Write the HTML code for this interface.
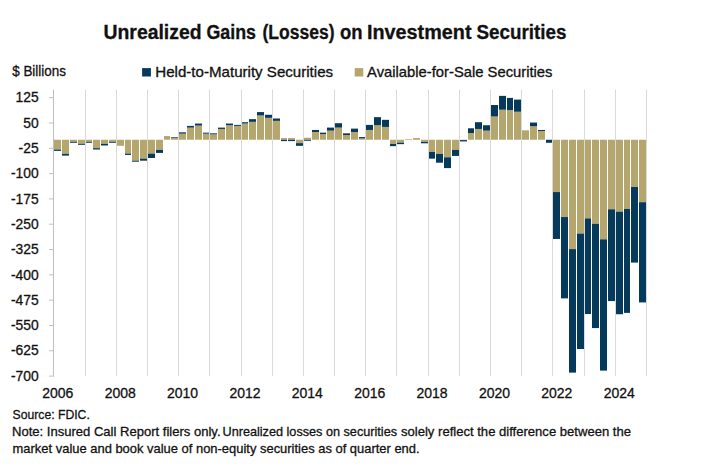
<!DOCTYPE html>
<html><head><meta charset="utf-8"><title>Unrealized Gains (Losses) on Investment Securities</title>
<style>
html,body{margin:0;padding:0;background:#fff;}
body{width:709px;height:466px;overflow:hidden;}
svg{display:block;}
text{font-family:"Liberation Sans",Arial,sans-serif;fill:#111111;stroke:#111111;stroke-width:0.3px;}
.ax{font-size:14.5px;}
.tt{font-size:19.4px;font-weight:bold;}
.lg{font-size:14.2px;}
.nt{font-size:13.2px;}
</style></head>
<body>
<svg width="709" height="466" viewBox="0 0 709 466">
<rect x="0" y="0" width="709" height="466" fill="#fff"/>
<text x="103.50" y="38.7" class="tt" textLength="98.03" lengthAdjust="spacingAndGlyphs">Unrealized</text><text x="206.50" y="38.7" class="tt" textLength="49.52" lengthAdjust="spacingAndGlyphs">Gains</text><text x="262.50" y="38.7" class="tt" textLength="72.04" lengthAdjust="spacingAndGlyphs">(Losses)</text><text x="340.00" y="38.7" class="tt" textLength="22.59" lengthAdjust="spacingAndGlyphs">on</text><text x="367.00" y="38.7" class="tt" textLength="104.52" lengthAdjust="spacingAndGlyphs">Investment</text><text x="476.50" y="38.7" class="tt" textLength="90.02" lengthAdjust="spacingAndGlyphs">Securities</text>
<text x="12.2" y="76.3" class="lg" textLength="53.8" lengthAdjust="spacingAndGlyphs">$ Billions</text>
<rect x="142.1" y="68.1" width="8.8" height="8.4" fill="#063a5b"/>
<text x="155.3" y="76.5" class="lg" textLength="177.8" lengthAdjust="spacingAndGlyphs">Held-to-Maturity Securities</text>
<rect x="354.7" y="68.1" width="8.6" height="8.4" fill="#b5a66e"/>
<text x="367.1" y="76.5" class="lg" textLength="185.4" lengthAdjust="spacingAndGlyphs">Available-for-Sale Securities</text>
<line x1="85.50" y1="89.5" x2="85.50" y2="376.2" stroke="#d9d9d9" stroke-width="1"/>
<line x1="116.50" y1="89.5" x2="116.50" y2="376.2" stroke="#d9d9d9" stroke-width="1"/>
<line x1="147.50" y1="89.5" x2="147.50" y2="376.2" stroke="#d9d9d9" stroke-width="1"/>
<line x1="178.50" y1="89.5" x2="178.50" y2="376.2" stroke="#d9d9d9" stroke-width="1"/>
<line x1="209.50" y1="89.5" x2="209.50" y2="376.2" stroke="#d9d9d9" stroke-width="1"/>
<line x1="241.50" y1="89.5" x2="241.50" y2="376.2" stroke="#d9d9d9" stroke-width="1"/>
<line x1="272.50" y1="89.5" x2="272.50" y2="376.2" stroke="#d9d9d9" stroke-width="1"/>
<line x1="303.50" y1="89.5" x2="303.50" y2="376.2" stroke="#d9d9d9" stroke-width="1"/>
<line x1="334.50" y1="89.5" x2="334.50" y2="376.2" stroke="#d9d9d9" stroke-width="1"/>
<line x1="365.50" y1="89.5" x2="365.50" y2="376.2" stroke="#d9d9d9" stroke-width="1"/>
<line x1="396.50" y1="89.5" x2="396.50" y2="376.2" stroke="#d9d9d9" stroke-width="1"/>
<line x1="428.50" y1="89.5" x2="428.50" y2="376.2" stroke="#d9d9d9" stroke-width="1"/>
<line x1="459.50" y1="89.5" x2="459.50" y2="376.2" stroke="#d9d9d9" stroke-width="1"/>
<line x1="490.50" y1="89.5" x2="490.50" y2="376.2" stroke="#d9d9d9" stroke-width="1"/>
<line x1="521.50" y1="89.5" x2="521.50" y2="376.2" stroke="#d9d9d9" stroke-width="1"/>
<line x1="552.50" y1="89.5" x2="552.50" y2="376.2" stroke="#d9d9d9" stroke-width="1"/>
<line x1="584.50" y1="89.5" x2="584.50" y2="376.2" stroke="#d9d9d9" stroke-width="1"/>
<line x1="615.50" y1="89.5" x2="615.50" y2="376.2" stroke="#d9d9d9" stroke-width="1"/>
<line x1="646.50" y1="89.5" x2="646.50" y2="376.2" stroke="#d9d9d9" stroke-width="1"/>
<rect x="54.00" y="139.75" width="7.00" height="9.79" fill="#b5a66e"/>
<rect x="54.00" y="149.54" width="7.00" height="1.35" fill="#063a5b"/>
<rect x="62.00" y="139.75" width="7.00" height="14.18" fill="#b5a66e"/>
<rect x="62.00" y="153.93" width="7.00" height="1.69" fill="#063a5b"/>
<rect x="70.00" y="139.75" width="7.00" height="2.03" fill="#b5a66e"/>
<rect x="70.00" y="141.78" width="7.00" height="1.01" fill="#063a5b"/>
<rect x="78.00" y="139.75" width="7.00" height="4.05" fill="#b5a66e"/>
<rect x="78.00" y="143.80" width="7.00" height="1.01" fill="#063a5b"/>
<rect x="86.00" y="139.75" width="6.00" height="2.03" fill="#b5a66e"/>
<rect x="86.00" y="141.78" width="6.00" height="1.01" fill="#063a5b"/>
<rect x="93.00" y="139.75" width="7.00" height="8.44" fill="#b5a66e"/>
<rect x="93.00" y="148.19" width="7.00" height="1.35" fill="#063a5b"/>
<rect x="101.00" y="139.75" width="7.00" height="4.05" fill="#b5a66e"/>
<rect x="101.00" y="143.80" width="7.00" height="1.69" fill="#063a5b"/>
<rect x="109.00" y="139.75" width="7.00" height="2.03" fill="#b5a66e"/>
<rect x="109.00" y="141.78" width="7.00" height="1.01" fill="#063a5b"/>
<rect x="117.00" y="139.75" width="7.00" height="6.07" fill="#b5a66e"/>
<rect x="125.00" y="139.75" width="6.00" height="13.84" fill="#b5a66e"/>
<rect x="125.00" y="153.59" width="6.00" height="1.35" fill="#063a5b"/>
<rect x="132.00" y="139.75" width="7.00" height="20.93" fill="#b5a66e"/>
<rect x="132.00" y="160.68" width="7.00" height="1.01" fill="#063a5b"/>
<rect x="140.00" y="139.75" width="7.00" height="18.90" fill="#b5a66e"/>
<rect x="140.00" y="158.65" width="7.00" height="2.03" fill="#063a5b"/>
<rect x="148.00" y="139.75" width="7.00" height="13.84" fill="#b5a66e"/>
<rect x="148.00" y="153.59" width="7.00" height="4.39" fill="#063a5b"/>
<rect x="156.00" y="139.75" width="7.00" height="10.12" fill="#b5a66e"/>
<rect x="156.00" y="149.88" width="7.00" height="3.04" fill="#063a5b"/>
<rect x="164.00" y="136.04" width="6.00" height="3.71" fill="#b5a66e"/>
<rect x="171.00" y="137.72" width="7.00" height="2.03" fill="#b5a66e"/>
<rect x="171.00" y="137.05" width="7.00" height="0.67" fill="#063a5b"/>
<rect x="179.00" y="133.68" width="7.00" height="6.07" fill="#b5a66e"/>
<rect x="179.00" y="132.32" width="7.00" height="1.35" fill="#063a5b"/>
<rect x="187.00" y="127.60" width="7.00" height="12.15" fill="#b5a66e"/>
<rect x="187.00" y="125.91" width="7.00" height="1.69" fill="#063a5b"/>
<rect x="195.00" y="125.58" width="7.00" height="14.17" fill="#b5a66e"/>
<rect x="195.00" y="123.55" width="7.00" height="2.03" fill="#063a5b"/>
<rect x="203.00" y="133.68" width="6.00" height="6.07" fill="#b5a66e"/>
<rect x="203.00" y="132.66" width="6.00" height="1.01" fill="#063a5b"/>
<rect x="210.00" y="134.35" width="7.00" height="5.40" fill="#b5a66e"/>
<rect x="210.00" y="133.34" width="7.00" height="1.01" fill="#063a5b"/>
<rect x="218.00" y="128.95" width="7.00" height="10.80" fill="#b5a66e"/>
<rect x="218.00" y="127.60" width="7.00" height="1.35" fill="#063a5b"/>
<rect x="226.00" y="125.24" width="7.00" height="14.51" fill="#b5a66e"/>
<rect x="226.00" y="123.55" width="7.00" height="1.69" fill="#063a5b"/>
<rect x="234.00" y="125.91" width="7.00" height="13.84" fill="#b5a66e"/>
<rect x="234.00" y="124.90" width="7.00" height="1.01" fill="#063a5b"/>
<rect x="242.00" y="123.55" width="6.00" height="16.20" fill="#b5a66e"/>
<rect x="242.00" y="122.20" width="6.00" height="1.35" fill="#063a5b"/>
<rect x="249.00" y="121.86" width="7.00" height="17.89" fill="#b5a66e"/>
<rect x="249.00" y="119.16" width="7.00" height="2.70" fill="#063a5b"/>
<rect x="257.00" y="115.45" width="7.00" height="24.30" fill="#b5a66e"/>
<rect x="257.00" y="112.08" width="7.00" height="3.38" fill="#063a5b"/>
<rect x="265.00" y="117.81" width="7.00" height="21.94" fill="#b5a66e"/>
<rect x="265.00" y="114.78" width="7.00" height="3.04" fill="#063a5b"/>
<rect x="273.00" y="120.85" width="7.00" height="18.90" fill="#b5a66e"/>
<rect x="273.00" y="118.49" width="7.00" height="2.36" fill="#063a5b"/>
<rect x="281.00" y="138.06" width="6.00" height="1.69" fill="#b5a66e"/>
<rect x="281.00" y="139.75" width="6.00" height="1.35" fill="#063a5b"/>
<rect x="288.00" y="138.06" width="7.00" height="1.69" fill="#b5a66e"/>
<rect x="288.00" y="139.75" width="7.00" height="1.35" fill="#063a5b"/>
<rect x="296.00" y="139.75" width="7.00" height="3.38" fill="#b5a66e"/>
<rect x="296.00" y="143.12" width="7.00" height="2.70" fill="#063a5b"/>
<rect x="304.00" y="137.72" width="7.00" height="2.03" fill="#b5a66e"/>
<rect x="304.00" y="139.75" width="7.00" height="1.01" fill="#063a5b"/>
<rect x="312.00" y="131.99" width="7.00" height="7.76" fill="#b5a66e"/>
<rect x="312.00" y="129.96" width="7.00" height="2.03" fill="#063a5b"/>
<rect x="320.00" y="134.01" width="6.00" height="5.74" fill="#b5a66e"/>
<rect x="320.00" y="132.66" width="6.00" height="1.35" fill="#063a5b"/>
<rect x="327.00" y="130.64" width="7.00" height="9.11" fill="#b5a66e"/>
<rect x="327.00" y="127.60" width="7.00" height="3.04" fill="#063a5b"/>
<rect x="335.00" y="127.60" width="7.00" height="12.15" fill="#b5a66e"/>
<rect x="335.00" y="123.21" width="7.00" height="4.39" fill="#063a5b"/>
<rect x="343.00" y="135.03" width="7.00" height="4.72" fill="#b5a66e"/>
<rect x="343.00" y="133.34" width="7.00" height="1.69" fill="#063a5b"/>
<rect x="351.00" y="131.99" width="7.00" height="7.76" fill="#b5a66e"/>
<rect x="351.00" y="128.61" width="7.00" height="3.38" fill="#063a5b"/>
<rect x="359.00" y="138.40" width="6.00" height="1.35" fill="#b5a66e"/>
<rect x="359.00" y="137.05" width="6.00" height="1.35" fill="#063a5b"/>
<rect x="366.00" y="129.96" width="7.00" height="9.79" fill="#b5a66e"/>
<rect x="366.00" y="124.90" width="7.00" height="5.06" fill="#063a5b"/>
<rect x="374.00" y="125.24" width="7.00" height="14.51" fill="#b5a66e"/>
<rect x="374.00" y="117.14" width="7.00" height="8.10" fill="#063a5b"/>
<rect x="382.00" y="126.92" width="7.00" height="12.83" fill="#b5a66e"/>
<rect x="382.00" y="119.84" width="7.00" height="7.09" fill="#063a5b"/>
<rect x="390.00" y="139.75" width="6.00" height="4.22" fill="#b5a66e"/>
<rect x="390.00" y="143.97" width="6.00" height="2.19" fill="#063a5b"/>
<rect x="397.00" y="139.75" width="7.00" height="2.87" fill="#b5a66e"/>
<rect x="397.00" y="142.62" width="7.00" height="1.52" fill="#063a5b"/>
<rect x="405.00" y="139.07" width="7.00" height="0.68" fill="#b5a66e"/>
<rect x="413.00" y="138.06" width="7.00" height="1.69" fill="#b5a66e"/>
<rect x="421.00" y="139.75" width="7.00" height="2.19" fill="#b5a66e"/>
<rect x="421.00" y="141.94" width="7.00" height="1.35" fill="#063a5b"/>
<rect x="429.00" y="139.75" width="6.00" height="12.15" fill="#b5a66e"/>
<rect x="429.00" y="151.90" width="6.00" height="6.75" fill="#063a5b"/>
<rect x="436.00" y="139.75" width="7.00" height="14.18" fill="#b5a66e"/>
<rect x="436.00" y="153.93" width="7.00" height="8.77" fill="#063a5b"/>
<rect x="444.00" y="139.75" width="7.00" height="17.55" fill="#b5a66e"/>
<rect x="444.00" y="157.30" width="7.00" height="10.80" fill="#063a5b"/>
<rect x="452.00" y="139.75" width="7.00" height="10.12" fill="#b5a66e"/>
<rect x="452.00" y="149.88" width="7.00" height="6.07" fill="#063a5b"/>
<rect x="460.00" y="139.75" width="7.00" height="0.34" fill="#b5a66e"/>
<rect x="460.00" y="140.09" width="7.00" height="1.35" fill="#063a5b"/>
<rect x="468.00" y="133.00" width="6.00" height="6.75" fill="#b5a66e"/>
<rect x="468.00" y="128.28" width="6.00" height="4.72" fill="#063a5b"/>
<rect x="475.00" y="128.95" width="7.00" height="10.80" fill="#b5a66e"/>
<rect x="475.00" y="122.20" width="7.00" height="6.75" fill="#063a5b"/>
<rect x="483.00" y="130.64" width="7.00" height="9.11" fill="#b5a66e"/>
<rect x="483.00" y="125.24" width="7.00" height="5.40" fill="#063a5b"/>
<rect x="491.00" y="116.46" width="7.00" height="23.29" fill="#b5a66e"/>
<rect x="491.00" y="104.99" width="7.00" height="11.48" fill="#063a5b"/>
<rect x="499.00" y="109.71" width="7.00" height="30.04" fill="#b5a66e"/>
<rect x="499.00" y="95.88" width="7.00" height="13.84" fill="#063a5b"/>
<rect x="507.00" y="110.05" width="6.00" height="29.70" fill="#b5a66e"/>
<rect x="507.00" y="97.90" width="6.00" height="12.15" fill="#063a5b"/>
<rect x="514.00" y="111.74" width="7.00" height="28.01" fill="#b5a66e"/>
<rect x="514.00" y="99.59" width="7.00" height="12.15" fill="#063a5b"/>
<rect x="522.00" y="130.30" width="7.00" height="9.45" fill="#b5a66e"/>
<rect x="530.00" y="126.25" width="7.00" height="13.50" fill="#b5a66e"/>
<rect x="530.00" y="122.54" width="7.00" height="3.71" fill="#063a5b"/>
<rect x="538.00" y="130.97" width="7.00" height="8.78" fill="#b5a66e"/>
<rect x="538.00" y="129.96" width="7.00" height="1.01" fill="#063a5b"/>
<rect x="546.00" y="139.75" width="6.00" height="3.04" fill="#063a5b"/>
<rect x="553.00" y="139.75" width="7.00" height="52.31" fill="#b5a66e"/>
<rect x="553.00" y="192.06" width="7.00" height="46.91" fill="#063a5b"/>
<rect x="561.00" y="139.75" width="7.00" height="77.29" fill="#b5a66e"/>
<rect x="561.00" y="217.04" width="7.00" height="81.34" fill="#063a5b"/>
<rect x="569.00" y="139.75" width="7.00" height="109.35" fill="#b5a66e"/>
<rect x="569.00" y="249.10" width="7.00" height="123.52" fill="#063a5b"/>
<rect x="577.00" y="139.75" width="7.00" height="93.82" fill="#b5a66e"/>
<rect x="577.00" y="233.57" width="7.00" height="115.43" fill="#063a5b"/>
<rect x="585.00" y="139.75" width="6.00" height="78.64" fill="#b5a66e"/>
<rect x="585.00" y="218.39" width="6.00" height="95.68" fill="#063a5b"/>
<rect x="592.00" y="139.75" width="7.00" height="84.04" fill="#b5a66e"/>
<rect x="592.00" y="223.79" width="7.00" height="104.29" fill="#063a5b"/>
<rect x="600.00" y="139.75" width="7.00" height="99.56" fill="#b5a66e"/>
<rect x="600.00" y="239.31" width="7.00" height="131.29" fill="#063a5b"/>
<rect x="608.00" y="139.75" width="7.00" height="69.53" fill="#b5a66e"/>
<rect x="608.00" y="209.28" width="7.00" height="91.80" fill="#063a5b"/>
<rect x="616.00" y="139.75" width="7.00" height="71.89" fill="#b5a66e"/>
<rect x="616.00" y="211.64" width="7.00" height="102.60" fill="#063a5b"/>
<rect x="624.00" y="139.75" width="6.00" height="69.19" fill="#b5a66e"/>
<rect x="624.00" y="208.94" width="6.00" height="103.95" fill="#063a5b"/>
<rect x="631.00" y="139.75" width="7.00" height="47.25" fill="#b5a66e"/>
<rect x="631.00" y="187.00" width="7.00" height="75.60" fill="#063a5b"/>
<rect x="639.00" y="139.75" width="7.00" height="62.44" fill="#b5a66e"/>
<rect x="639.00" y="202.19" width="7.00" height="100.24" fill="#063a5b"/>
<line x1="53.50" y1="89.5" x2="53.50" y2="376.6" stroke="#bfbfbf" stroke-width="1"/>
<line x1="49" y1="376.10" x2="53.50" y2="376.10" stroke="#bfbfbf" stroke-width="1"/>
<line x1="49" y1="350.79" x2="53.50" y2="350.79" stroke="#bfbfbf" stroke-width="1"/>
<line x1="49" y1="325.48" x2="53.50" y2="325.48" stroke="#bfbfbf" stroke-width="1"/>
<line x1="49" y1="300.16" x2="53.50" y2="300.16" stroke="#bfbfbf" stroke-width="1"/>
<line x1="49" y1="274.85" x2="53.50" y2="274.85" stroke="#bfbfbf" stroke-width="1"/>
<line x1="49" y1="249.54" x2="53.50" y2="249.54" stroke="#bfbfbf" stroke-width="1"/>
<line x1="49" y1="224.22" x2="53.50" y2="224.22" stroke="#bfbfbf" stroke-width="1"/>
<line x1="49" y1="198.91" x2="53.50" y2="198.91" stroke="#bfbfbf" stroke-width="1"/>
<line x1="49" y1="173.60" x2="53.50" y2="173.60" stroke="#bfbfbf" stroke-width="1"/>
<line x1="49" y1="148.29" x2="53.50" y2="148.29" stroke="#bfbfbf" stroke-width="1"/>
<line x1="49" y1="122.97" x2="53.50" y2="122.97" stroke="#bfbfbf" stroke-width="1"/>
<line x1="49" y1="97.66" x2="53.50" y2="97.66" stroke="#bfbfbf" stroke-width="1"/>
<text transform="translate(38.6 380.80) scale(0.955 1)" text-anchor="end" class="ax">-700</text>
<text transform="translate(38.6 355.49) scale(0.955 1)" text-anchor="end" class="ax">-625</text>
<text transform="translate(38.6 330.18) scale(0.955 1)" text-anchor="end" class="ax">-550</text>
<text transform="translate(38.6 304.86) scale(0.955 1)" text-anchor="end" class="ax">-475</text>
<text transform="translate(38.6 279.55) scale(0.955 1)" text-anchor="end" class="ax">-400</text>
<text transform="translate(38.6 254.24) scale(0.955 1)" text-anchor="end" class="ax">-325</text>
<text transform="translate(38.6 228.92) scale(0.955 1)" text-anchor="end" class="ax">-250</text>
<text transform="translate(38.6 203.61) scale(0.955 1)" text-anchor="end" class="ax">-175</text>
<text transform="translate(38.6 178.30) scale(0.955 1)" text-anchor="end" class="ax">-100</text>
<text transform="translate(38.6 152.99) scale(0.955 1)" text-anchor="end" class="ax">-25</text>
<text transform="translate(38.6 127.67) scale(0.955 1)" text-anchor="end" class="ax">50</text>
<text transform="translate(38.6 102.36) scale(0.955 1)" text-anchor="end" class="ax">125</text>
<text transform="translate(57.80 397.6) scale(0.965 1)" text-anchor="middle" class="ax">2006</text>
<text transform="translate(120.18 397.6) scale(0.965 1)" text-anchor="middle" class="ax">2008</text>
<text transform="translate(182.56 397.6) scale(0.965 1)" text-anchor="middle" class="ax">2010</text>
<text transform="translate(244.94 397.6) scale(0.965 1)" text-anchor="middle" class="ax">2012</text>
<text transform="translate(307.32 397.6) scale(0.965 1)" text-anchor="middle" class="ax">2014</text>
<text transform="translate(369.70 397.6) scale(0.965 1)" text-anchor="middle" class="ax">2016</text>
<text transform="translate(432.08 397.6) scale(0.965 1)" text-anchor="middle" class="ax">2018</text>
<text transform="translate(494.46 397.6) scale(0.965 1)" text-anchor="middle" class="ax">2020</text>
<text transform="translate(556.84 397.6) scale(0.965 1)" text-anchor="middle" class="ax">2022</text>
<text transform="translate(619.22 397.6) scale(0.965 1)" text-anchor="middle" class="ax">2024</text>
<text x="12.6" y="419" class="nt" textLength="77.2" lengthAdjust="spacingAndGlyphs">Source: FDIC.</text>
<text id="n0" x="12.00" y="436.2" class="nt" textLength="208.52" lengthAdjust="spacingAndGlyphs">Note: Insured Call Report filers only.</text><text id="n1" x="222.50" y="436.2" class="nt" textLength="174.51" lengthAdjust="spacingAndGlyphs">Unrealized losses on securities</text><text id="n2" x="401.00" y="436.2" class="nt" textLength="230.00" lengthAdjust="spacingAndGlyphs">solely reflect the difference between the</text>
<text x="12.6" y="453.4" class="nt" textLength="407" lengthAdjust="spacingAndGlyphs">market value and book value of non-equity securities as of quarter end.</text>
</svg>
</body></html>
